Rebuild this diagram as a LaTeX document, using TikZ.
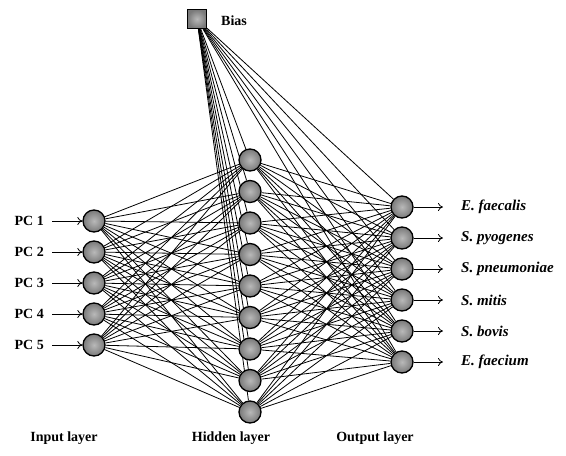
\documentclass[tikz,border=0pt]{standalone}
\usepackage{fontspec}
\setmainfont{Liberation Serif}
\usetikzlibrary{arrows.meta}
\pgfdeclarelayer{background}
\pgfsetlayers{background,main}
\begin{document}
\begin{tikzpicture}[x=1pt,y=-1pt,
  neuron/.style={circle, draw=black, line width=1.3pt, inner color=gray!55, outer color=gray!95!black, minimum size=22pt, inner sep=0pt},
  biasbox/.style={rectangle, draw=black, line width=1.2pt, inner color=gray!55, outer color=gray!95!black, minimum size=19pt, inner sep=0pt},
  link/.style={line width=0.8pt, black},
  lbl/.style={font=\fontsize{14}{16}\selectfont\bfseries, inner sep=0pt},
  species/.style={font=\fontsize{15}{17}\selectfont\bfseries\itshape, inner sep=0pt, anchor=west},
  tip/.style={-{To[length=5pt,width=8pt]}, line width=0.8pt},
  inarrow/.style={tip, shorten <=8pt},
  outarrow/.style={tip, shorten >=18pt}]
\useasboundingbox (0,0) rectangle (566,456);

% bias unit
\node[biasbox] (bias) at (197,19) {};
\node[lbl, anchor=west] (biaslab) at (221,21) {Bias};

% input layer
\foreach \i/\y in {1/221,2/252,3/283,4/314,5/345} {
  \node[neuron] (in\i) at (94,\y) {};
  \node[lbl, anchor=east] (pc\i) at (44,\y) {PC \i};
  \draw[inarrow] (pc\i) -- (in\i);
}

% hidden layer
\foreach \j in {1,...,9} {
  \node[neuron] (hid\j) at (250,{160+31.5*(\j-1)}) {};
}

% output layer
\foreach \k/\name in {1/E. faecalis,2/S. pyogenes,3/S. pneumoniae,4/S. mitis,5/S. bovis,6/E. faecium} {
  \node[neuron] (out\k) at (402,{207+31*(\k-1)}) {};
  \node[species] (sp\k) at (461,{207+31*(\k-1)}) {\name};
  \draw[outarrow] (out\k) -- (sp\k);
}

% weighted connections
\begin{pgfonlayer}{background}
  \foreach \i in {1,...,5}
    \foreach \j in {1,...,9}
      \draw[link] (in\i) -- (hid\j);
  \foreach \j in {1,...,9}
    \foreach \k in {1,...,6}
      \draw[link] (hid\j) -- (out\k);
  \foreach \j in {1,...,9}
    \draw[link] (bias) -- (hid\j);
  \foreach \k in {1,...,6}
    \draw[link] (bias) -- (out\k);
\end{pgfonlayer}

% layer captions
\node[lbl] (capin) at (64,438) {Input layer};
\node[lbl] (caphid) at (231,438) {Hidden layer};
\node[lbl] (capout) at (375,438) {Output layer};
\end{tikzpicture}
\end{document}
